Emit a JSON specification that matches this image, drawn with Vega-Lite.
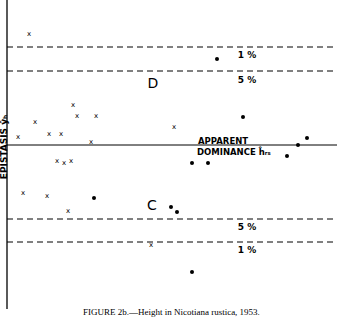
{
  "$schema": "https://vega.github.io/schema/vega-lite/v6.json",
  "width": 337,
  "height": 317,
  "autosize": "none",
  "padding": 0,
  "background": "white",
  "config": {"view": {"stroke": null}},
  "datasets": {
    "crosses": [
      {"x": 29, "y": 11.1}, {"x": 73, "y": 4.0}, {"x": 77, "y": 2.9}, {"x": 96, "y": 2.9},
      {"x": 35, "y": 2.3}, {"x": 18, "y": 0.8}, {"x": 49, "y": 1.1}, {"x": 61, "y": 1.1},
      {"x": 91, "y": 0.3}, {"x": 174, "y": 1.8}, {"x": 57, "y": -1.6}, {"x": 64, "y": -1.8},
      {"x": 71, "y": -1.6}, {"x": 23, "y": -4.8}, {"x": 47, "y": -5.1}, {"x": 68, "y": -6.6},
      {"x": 151, "y": -10.0}
    ],
    "dots": [
      {"x": 217, "y": 8.6}, {"x": 243, "y": 2.8}, {"x": 307, "y": 0.7}, {"x": 298, "y": 0.0},
      {"x": 287, "y": -1.1}, {"x": 94, "y": -5.3}, {"x": 192, "y": -1.8}, {"x": 208, "y": -1.8},
      {"x": 171, "y": -6.2}, {"x": 177, "y": -6.7}, {"x": 192, "y": -12.7}
    ],
    "hlines": [
      {"x": 7, "x2": 337, "y": 9.8},
      {"x": 7, "x2": 337, "y": 7.4},
      {"x": 7, "x2": 337, "y": -7.4},
      {"x": 7, "x2": 337, "y": -9.7}
    ],
    "zero": [{"x": 7, "x2": 337, "y": 0}],
    "axisline": [{"x": 7, "y": 14.5, "y2": -16.4}],
    "bigletters": [{"x": 153, "y": 6.1, "t": "D"}, {"x": 152, "y": -6.1, "t": "C"}],
    "pct": [
      {"x": 247, "y": 9.0, "t": "1 %"}, {"x": 247, "y": 6.5, "t": "5 %"},
      {"x": 247, "y": -8.2, "t": "5 %"}, {"x": 247, "y": -10.5, "t": "1 %"}
    ],
    "dom": [{"x": 198, "y": 0.4, "t": "APPARENT"}, {"x": 197, "y": -0.7, "t": "DOMINANCE ĥᵣₛ"}],
    "ylab": [{"x": 3.5, "y": -0.2, "t": "EPISTASIS ŷₕ"}],
    "cap": [
      {"x": 83, "y": -16.7, "t": "FIGURE 2b.—Height in", "it": "normal"},
      {"x": 174, "y": -16.7, "t": "Nicotiana rustica", "it": "italic"},
      {"x": 235, "y": -16.7, "t": ", 1953.", "it": "normal"}
    ]
  },
  "layer": [
    {
      "data": {"name": "axisline"},
      "mark": {"type": "rule", "color": "black", "strokeWidth": 1.3, "clip": false},
      "encoding": {
        "x": {"field": "x", "type": "quantitative", "scale": {"domain": [0, 337], "nice": false, "zero": false}, "axis": null},
        "y": {"field": "y", "type": "quantitative", "scale": {"domain": [-17.2, 14.5], "nice": false, "zero": false}, "axis": null},
        "y2": {"field": "y2"}
      }
    },
    {
      "data": {"name": "zero"},
      "mark": {"type": "rule", "color": "black", "strokeWidth": 1},
      "encoding": {
        "x": {"field": "x", "type": "quantitative"},
        "x2": {"field": "x2"},
        "y": {"field": "y", "type": "quantitative"}
      }
    },
    {
      "data": {"name": "hlines"},
      "mark": {"type": "rule", "color": "black", "strokeWidth": 1, "strokeDash": [6, 4]},
      "encoding": {
        "x": {"field": "x", "type": "quantitative"},
        "x2": {"field": "x2"},
        "y": {"field": "y", "type": "quantitative"}
      }
    },
    {
      "data": {"name": "crosses"},
      "mark": {"type": "text", "text": "x", "font": "DejaVu Sans", "fontSize": 7, "baseline": "middle", "align": "center", "fill": "black"},
      "encoding": {
        "x": {"field": "x", "type": "quantitative"},
        "y": {"field": "y", "type": "quantitative"}
      }
    },
    {
      "data": {"name": "dots"},
      "mark": {"type": "point", "filled": true, "size": 16, "color": "black", "opacity": 1},
      "encoding": {
        "x": {"field": "x", "type": "quantitative"},
        "y": {"field": "y", "type": "quantitative"}
      }
    },
    {
      "data": {"name": "bigletters"},
      "mark": {"type": "text", "font": "DejaVu Sans", "fontSize": 14, "fontWeight": "normal", "baseline": "middle", "align": "center", "color": "black"},
      "encoding": {
        "x": {"field": "x", "type": "quantitative"},
        "y": {"field": "y", "type": "quantitative"},
        "text": {"field": "t"}
      }
    },
    {
      "data": {"name": "pct"},
      "mark": {"type": "text", "font": "DejaVu Sans", "fontSize": 9, "fontWeight": "bold", "baseline": "middle", "align": "center", "color": "black"},
      "encoding": {
        "x": {"field": "x", "type": "quantitative"},
        "y": {"field": "y", "type": "quantitative"},
        "text": {"field": "t"}
      }
    },
    {
      "data": {"name": "dom"},
      "mark": {"type": "text", "font": "DejaVu Sans", "fontSize": 8.5, "fontWeight": "bold", "baseline": "middle", "align": "left", "color": "black"},
      "encoding": {
        "x": {"field": "x", "type": "quantitative"},
        "y": {"field": "y", "type": "quantitative"},
        "text": {"field": "t"}
      }
    },
    {
      "data": {"name": "ylab"},
      "mark": {"type": "text", "font": "DejaVu Sans", "fontSize": 9, "fontWeight": "bold", "angle": 270, "baseline": "middle", "align": "center", "color": "black", "clip": false},
      "encoding": {
        "x": {"field": "x", "type": "quantitative"},
        "y": {"field": "y", "type": "quantitative"},
        "text": {"field": "t"}
      }
    },
    {
      "data": {"name": "cap"},
      "mark": {"type": "text", "font": "Liberation Serif", "fontSize": 9, "baseline": "middle", "align": "left", "color": "black"},
      "encoding": {
        "x": {"field": "x", "type": "quantitative"},
        "y": {"field": "y", "type": "quantitative"},
        "text": {"field": "t"},
        "fontStyle": {"field": "it", "type": "nominal", "scale": {"domain": ["normal", "italic"], "range": ["normal", "italic"]}, "legend": null}
      }
    }
  ]
}
